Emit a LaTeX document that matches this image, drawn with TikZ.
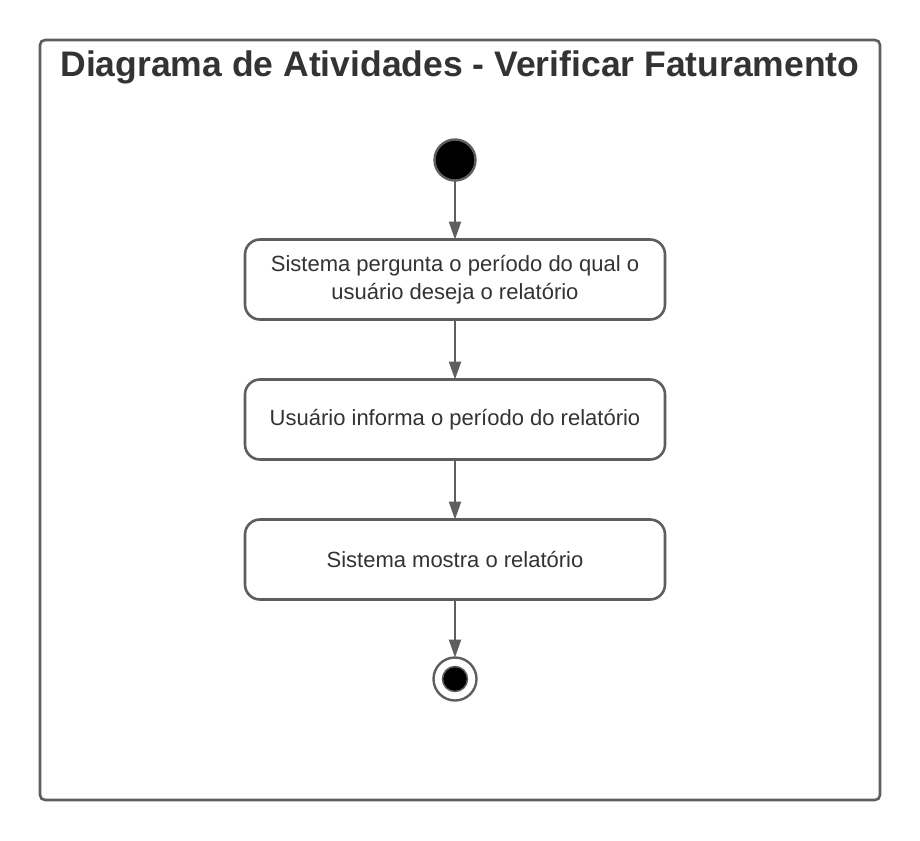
\documentclass[tikz,border=0pt]{standalone}
\usepackage{fontspec}
\setmainfont{Liberation Sans}
\usetikzlibrary{positioning,arrows.meta}
\definecolor{linegray}{HTML}{5E5E5E}
\definecolor{textgray}{HTML}{333333}

\tikzset{
  act/.style={draw=linegray, line width=2.6pt, rounded corners=15pt, fill=white, outer sep=0pt,
    minimum width=420pt, minimum height=80pt, align=center, text=textgray,
    font=\fontsize{22}{28}\selectfont},
  initial/.style={circle, draw=linegray, line width=2.4pt, fill=black, minimum size=41pt, inner sep=0pt, outer sep=0pt},
  finalring/.style={circle, draw=linegray, line width=2.4pt, fill=white, minimum size=43pt, inner sep=0pt, outer sep=0pt},
  finalcore/.style={circle, draw=linegray, line width=1.5pt, fill=black, minimum size=25pt, inner sep=0pt},
  flow/.style={draw=linegray, line width=2.4pt, -{Triangle[length=18pt,width=12pt]}},
}

\begin{document}
\begin{tikzpicture}[x=1pt, y=-1pt, node distance=60pt]
  \useasboundingbox (0,0) rectangle (920,840);

  % frame and title
  \draw[linegray, line width=2.6pt, rounded corners=5pt] (40,40) rectangle (880,800);
  \node[font=\bfseries\fontsize{35.5}{40}\selectfont, text=textgray] (title) at (460,67)
    {Diagrama de Atividades - Verificar Faturamento};

  % activities
  \node[initial] (start) at (455,160) {};
  \node[act, below=59pt of start] (ask) {Sistema pergunta o período do qual o\\usuário deseja o relatório};
  \node[act, below=of ask] (inform) {Usuário informa o período do relatório};
  \node[act, below=of inform] (show) {Sistema mostra o relatório};
  \node[finalring, below=58pt of show] (finish) {};
  \node[finalcore] (finishdot) at (finish) {};

  % flows
  \draw[flow] (start) -- (ask);
  \draw[flow] (ask) -- (inform);
  \draw[flow] (inform) -- (show);
  \draw[flow] (show) -- (finish);
\end{tikzpicture}
\end{document}
